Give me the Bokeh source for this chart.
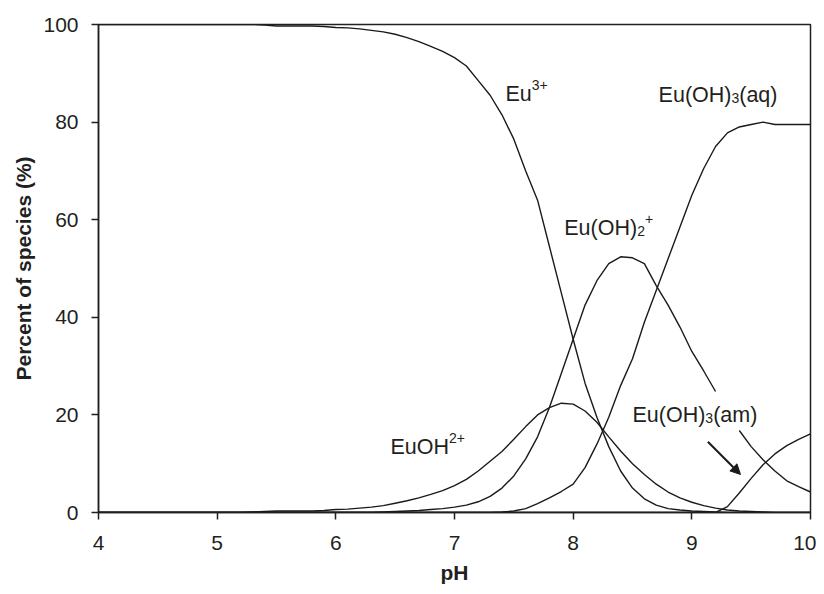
import numpy as np
from bokeh.plotting import figure
from bokeh.models import Label, Arrow, NormalHead, Range1d, FixedTicker
from bokeh.embed import file_html
from bokeh.resources import INLINE

nan = float("nan")

# pH grid (0.1 step)
ph = np.round(np.linspace(4, 10, 61), 1)

eu3 = [100] * 14 + [
    99.9, 99.7, 99.7, 99.7, 99.7, 99.6, 99.4, 99.3, 99.1, 98.8,
    98.5, 98.0, 97.3, 96.5, 95.5, 94.5, 93.2, 91.5, 88.5, 85.5,
    81.5, 76.5, 70.0, 64.0, 54.5, 45.0, 35.5, 26.5, 19.5, 13.5,
    8.5, 5.0, 2.8, 1.5, 0.8, 0.5, 0.3, 0.2, 0.1] + [0] * 8

euoh = [0] * 13 + [
    0.1, 0.2, 0.3, 0.3, 0.3, 0.3, 0.4, 0.6, 0.7, 0.9,
    1.1, 1.4, 1.9, 2.4, 3.0, 3.7, 4.5, 5.5, 6.8, 8.5,
    10.5, 12.5, 15.0, 17.6, 20.0, 21.5, 22.4, 22.2, 20.8, 18.5,
    15.5, 12.6, 10.0, 7.8, 5.8, 4.2, 3.0, 2.1, 1.4, 0.9,
    0.5, 0.3, 0.2, 0.1] + [0] * 4

euoh2 = [0] * 24 + [
    0.1, 0.2, 0.3, 0.4, 0.6, 0.8, 1.1, 1.5, 2.2, 3.3,
    5.0, 7.5, 11.0, 15.5, 21.5, 28.5, 35.5, 42.5, 47.5, 51.0,
    52.4, 52.2, 51.0, 46.5, 42.5, 38.0, 33.0, 29.0, 24.8, nan,
    16.8, 13.5, 10.8, 8.5, 6.5, 5.3, 4.2]

euoh3_aq = [0] * 34 + [
    0.1, 0.3, 0.8, 1.8, 3.0, 4.3, 5.8, 9.2, 14.0, 19.5,
    26.0, 31.5, 39.0, 45.5, 52.0, 58.5, 65.0, 70.5, 75.0, 77.8,
    79.0, 79.5, 80.0, 79.5, 79.5, 79.5, 79.5]

euoh3_am = [0] * 53 + [1.2, 4.0, 7.0, 9.8, 12.0, 13.7, 15.0, 16.1]

x_ticks = [4, 5, 6, 7, 8, 9, 10]
y_ticks = [0, 20, 40, 60, 80, 100]

# species labels: (parts, x(pH), y(%))
label_parts = [
    [("Eu", "n"), ("3+", "sup")],
    [("Eu(OH)", "n"), ("3", "sub"), ("(aq)", "n")],
    [("Eu(OH)", "n"), ("2", "sub"), ("+", "sup")],
    [("EuOH", "n"), ("2+", "sup")],
    [("Eu(OH)", "n"), ("3", "sub"), ("(am)", "n")],
]
label_x = [7.43, 8.72, 7.925, 6.46, 8.50]
label_y = [85.7, 85.6, 58.3, 13.4, 19.9]

arrow_start = (9.135, 14.5)
arrow_end = (9.41, 7.8)

INK = "#231f20"
FONT = "Liberation Sans"

p = figure(width=816, height=586, output_backend="svg", toolbar_location=None,
           x_range=Range1d(4, 10), y_range=Range1d(0, 100),
           min_border_left=98, min_border_right=6, min_border_top=24,
           min_border_bottom=74)

p.xgrid.visible = False
p.ygrid.visible = False
p.outline_line_color = INK
p.outline_line_width = 1.5
p.background_fill_color = "white"
p.border_fill_color = "white"

for ax in (p.xaxis, p.yaxis):
    ax.axis_line_color = INK
    ax.axis_line_width = 1.5
    ax.major_tick_line_color = INK
    ax.major_tick_line_width = 1.5
    ax.major_tick_out = 7
    ax.major_tick_in = 0
    ax.minor_tick_line_color = None
    ax.major_label_text_font = FONT
    ax.major_label_text_font_size = "21px"
    ax.major_label_text_color = INK
    ax.axis_label_text_font = FONT
    ax.axis_label_text_font_size = "21px"
    ax.axis_label_text_font_style = "bold"
    ax.axis_label_text_color = INK

p.xaxis.ticker = FixedTicker(ticks=x_ticks)
p.yaxis.ticker = FixedTicker(ticks=y_ticks)
p.xaxis.axis_label = "pH"
p.yaxis.axis_label = "Percent of species (%)"
p.xaxis.major_label_standoff = 16
p.yaxis.major_label_standoff = 13
p.xaxis.axis_label_standoff = 8
p.yaxis.axis_label_standoff = 5

for series in (eu3, euoh, euoh2, euoh3_aq, euoh3_am):
    p.line(ph, series, line_color="#1a1a1a", line_width=1.4)

p.add_layout(Arrow(end=NormalHead(size=10, fill_color="#1a1a1a", line_color="#1a1a1a"),
                   x_start=arrow_start[0], y_start=arrow_start[1],
                   x_end=arrow_end[0], y_end=arrow_end[1],
                   line_color="#1a1a1a", line_width=2))

W = {"E": .667, "u": .556, "(": .333, "O": .778, "H": .722, ")": .333,
     "a": .556, "q": .556, "m": .833, "2": .556, "3": .556, "+": .584}
MAIN = 21.5
SMALL = 14

def rich(parts, x, y):
    off = 0.0
    for txt, kind in parts:
        size = MAIN if kind == "n" else SMALL
        yoff = {"n": 0, "sup": 9, "sub": -3}[kind]
        p.add_layout(Label(x=x, y=y, x_offset=off, y_offset=yoff, text=txt,
                           text_font=FONT, text_font_size=f"{size}px",
                           text_color=INK, text_baseline="alphabetic",
                           text_align="left"))
        off += sum(W[c] for c in txt) * size

for parts, lx, ly in zip(label_parts, label_x, label_y):
    rich(parts, lx, ly)

open("out.html", "w").write(file_html(p, INLINE))
